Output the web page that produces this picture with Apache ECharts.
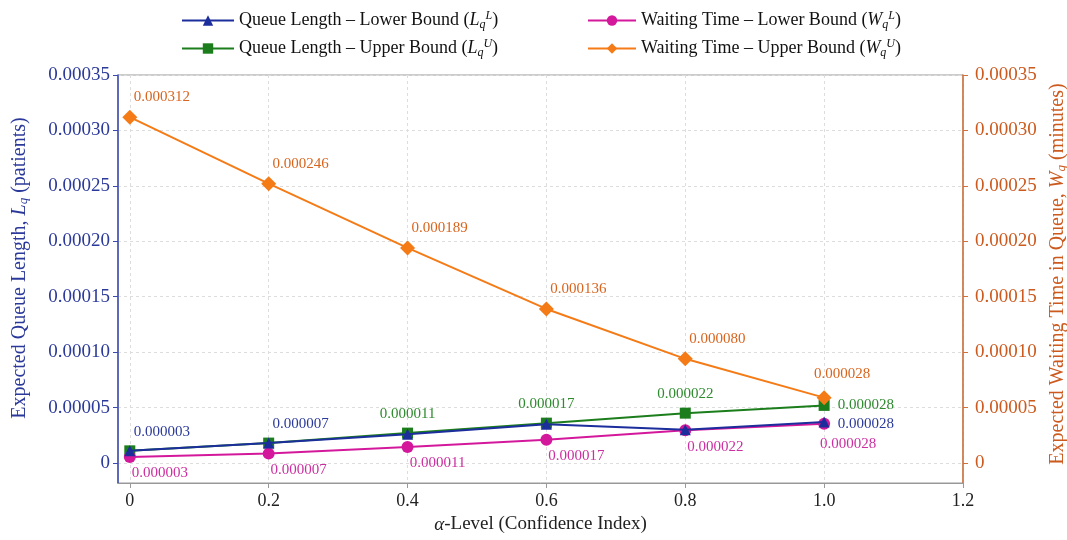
<!DOCTYPE html>
<html lang="en">
<head>
    <meta charset="UTF-8">
    <title>Queue Length and Waiting Time vs Alpha Level</title>
    <script src="https://cdn.jsdelivr.net/npm/echarts@6/dist/echarts.min.js"></script>
</head>
<body style="margin:0;background:#fff;">
    <div id="main" style="width:1067px;height:540px;"></div>
    <script type="text/javascript">
        // alpha levels on the x axis
        const alphaLevels = [0, 0.2, 0.4, 0.6, 0.8, 1.0];
        const xTicks = [0, 0.2, 0.4, 0.6, 0.8, 1.0, 1.2];
        const yTicks = [0, 0.00005, 0.0001, 0.00015, 0.0002, 0.00025, 0.0003, 0.00035];

        // plotted positions
        const queueLower = [0.000011, 0.000018, 0.000026, 0.000035, 0.000030, 0.000037];
        const queueUpper = [0.000011, 0.000018, 0.000027, 0.000036, 0.000045, 0.000052];
        const waitLower = [0.0000055, 0.0000085, 0.0000145, 0.000021, 0.0000295, 0.0000355];
        const waitUpper = [0.000312, 0.000252, 0.000194, 0.000139, 0.000094, 0.000059];

        // printed point labels
        const queueLowerLabels = ['0.000003', '0.000007', '', '', '', '0.000028'];
        const queueUpperLabels = ['', '', '0.000011', '0.000017', '0.000022', '0.000028'];
        const waitLowerLabels = ['0.000003', '0.000007', '0.000011', '0.000017', '0.000022', '0.000028'];
        const waitUpperLabels = ['0.000312', '0.000246', '0.000189', '0.000136', '0.000080', '0.000028'];

        const serif = '"Liberation Serif", "DejaVu Serif", serif';
        const blueAxis = '#2b3a9a';
        const orangeAxis = '#cc5a1e';

        const names = [
            'Queue Length – Lower Bound (L)',
            'Queue Length – Upper Bound (U)',
            'Waiting Time – Lower Bound (L)',
            'Waiting Time – Upper Bound (U)'
        ];
        // rich text for the legend entries
        function legendText(name) {
            const w = name.indexOf('Waiting') === 0 ? 'W' : 'L';
            const sup = name.indexOf('(U)') > 0 ? 'U' : 'L';
            return name.replace(/\((L|U)\)$/, '') + '({it|' + w + '}{sub|q}{sup|' + sup + '})';
        }

        function makeSeries(name, values, labels, color, labelColor, symbol, size, yIdx, labelCfg, lastCfg, z) {
            const data = values.map((v, i) => {
                const item = { value: [alphaLevels[i], v] };
                if (i === values.length - 1 && lastCfg) item.label = lastCfg;
                return item;
            });
            return {
                name: name,
                type: 'line',
                yAxisIndex: yIdx,
                data: data,
                symbol: symbol,
                symbolSize: size,
                z: z,
                lineStyle: { color: color, width: 2 },
                itemStyle: { color: color },
                label: Object.assign({
                    show: true,
                    color: labelColor,
                    fontFamily: serif,
                    fontSize: 15,
                    formatter: (p) => labels[p.dataIndex]
                }, labelCfg)
            };
        }

        let myChart = echarts.init(document.getElementById('main'));

        const legendTextStyle = {
            fontFamily: serif,
            fontSize: 18,
            color: '#111',
            rich: {
                it: { fontFamily: serif, fontStyle: 'italic', fontSize: 18, color: '#111' },
                sub: { fontFamily: serif, fontStyle: 'italic', fontSize: 12, color: '#111', verticalAlign: 'bottom', padding: [9, 0, 0, 0] },
                sup: { fontFamily: serif, fontStyle: 'italic', fontSize: 12, color: '#111', verticalAlign: 'top', padding: [0, 0, 9, 0] }
            }
        };

        let options = {
            backgroundColor: '#fff',
            animation: false,
            grid: {
                left: 118, right: 104, top: 75, bottom: 57,
                outerBoundsMode: 'none',
                show: true, borderColor: '#999', borderWidth: 1
            },
            legend: [
                {
                    data: [names[0], names[1]],
                    orient: 'vertical',
                    left: 176, top: 5,
                    itemWidth: 52, itemHeight: 13, itemGap: 7,
                    formatter: legendText,
                    textStyle: legendTextStyle
                },
                {
                    data: [names[2], names[3]],
                    orient: 'vertical',
                    left: 582, top: 5,
                    itemWidth: 48, itemHeight: 13, itemGap: 7,
                    formatter: legendText,
                    textStyle: legendTextStyle
                }
            ],
            xAxis: {
                type: 'value',
                min: -0.017,
                max: 1.2,
                name: '{it|α}-Level (Confidence Index)',
                nameLocation: 'middle',
                nameGap: 32,
                nameTextStyle: {
                    fontFamily: serif, fontSize: 19, color: '#222',
                    rich: { it: { fontFamily: serif, fontStyle: 'italic', fontSize: 19, color: '#222' } }
                },
                axisLine: { show: true, onZero: false, lineStyle: { color: '#999' } },
                axisTick: { show: true, inside: false, length: 5, customValues: xTicks, lineStyle: { color: '#999' } },
                axisLabel: {
                    customValues: xTicks,
                    fontFamily: serif, fontSize: 18, color: '#222', margin: 9,
                    formatter: (v) => v === 0 ? '0' : v.toFixed(1)
                },
                splitLine: { show: true, lineStyle: { color: '#ddd', type: [3, 3] } }
            },
            yAxis: [
                {
                    type: 'value',
                    min: -0.000018,
                    max: 0.00035,
                    position: 'left',
                    name: 'Expected Queue Length, {it|L}{sub|q} (patients)',
                    nameLocation: 'middle',
                    nameRotate: 90,
                    nameGap: 88,
                    nameTextStyle: {
                        fontFamily: serif, fontSize: 20, color: blueAxis, padding: [0, 0, 0, 22],
                        rich: {
                            it: { fontFamily: serif, fontStyle: 'italic', fontSize: 20, color: blueAxis },
                            sub: { fontFamily: serif, fontStyle: 'italic', fontSize: 13, color: blueAxis, padding: [8, 0, 0, 0] }
                        }
                    },
                    axisLine: { show: true, onZero: false, lineStyle: { color: '#3a4ab0', width: 1.5 } },
                    axisTick: { show: true, length: 5, customValues: yTicks, lineStyle: { color: '#3a4ab0' } },
                    axisLabel: {
                        customValues: yTicks,
                        fontFamily: serif, fontSize: 19, color: blueAxis, margin: 8,
                        formatter: (v) => v === 0 ? '0' : v.toFixed(5)
                    },
                    splitLine: { show: true, lineStyle: { color: '#ddd', type: [3, 3] } }
                },
                {
                    type: 'value',
                    min: -0.000018,
                    max: 0.00035,
                    position: 'right',
                    name: 'Expected Waiting Time in Queue, {it|W}{sub|q} (minutes)',
                    nameLocation: 'middle',
                    nameRotate: 90,
                    nameGap: 78,
                    nameTextStyle: {
                        fontFamily: serif, fontSize: 20, color: orangeAxis, padding: [0, 0, 0, 10],
                        rich: {
                            it: { fontFamily: serif, fontStyle: 'italic', fontSize: 20, color: orangeAxis },
                            sub: { fontFamily: serif, fontStyle: 'italic', fontSize: 13, color: orangeAxis, padding: [8, 0, 0, 0] }
                        }
                    },
                    axisLine: { show: true, onZero: false, lineStyle: { color: '#d2703a', width: 1.5 } },
                    axisTick: { show: true, length: 5, customValues: yTicks, lineStyle: { color: '#d2703a' } },
                    axisLabel: {
                        customValues: yTicks,
                        fontFamily: serif, fontSize: 19, color: orangeAxis, margin: 12,
                        formatter: (v) => v === 0 ? '0' : v.toFixed(5)
                    },
                    splitLine: { show: false }
                }
            ],
            series: [
                makeSeries(names[1], queueUpper, queueUpperLabels, '#1b7d1b', '#2e8b2e', 'rect', 11, 0,
                    { position: 'top', distance: 6 },
                    { position: 'right', distance: 8 }, 2),
                makeSeries(names[2], waitLower, waitLowerLabels, '#d4189c', '#cc2fa0', 'circle', 12, 1,
                    { position: 'bottom', offset: [30, -2] },
                    { position: 'bottom', offset: [24, 2] }, 3),
                makeSeries(names[0], queueLower, queueLowerLabels, '#1c2d9c', '#2b3a9a', 'triangle', 11, 0,
                    { position: 'top', offset: [32, -1] },
                    { position: 'right', offset: [0, 2], distance: 8 }, 4),
                makeSeries(names[3], waitUpper, waitUpperLabels, '#f47b16', '#d9641e', 'diamond', 15, 1,
                    { position: 'top', offset: [32, 0] },
                    { position: 'top', offset: [18, -4] }, 5)
            ]
        };

        myChart.setOption(options);
    </script>
</body>
</html>
